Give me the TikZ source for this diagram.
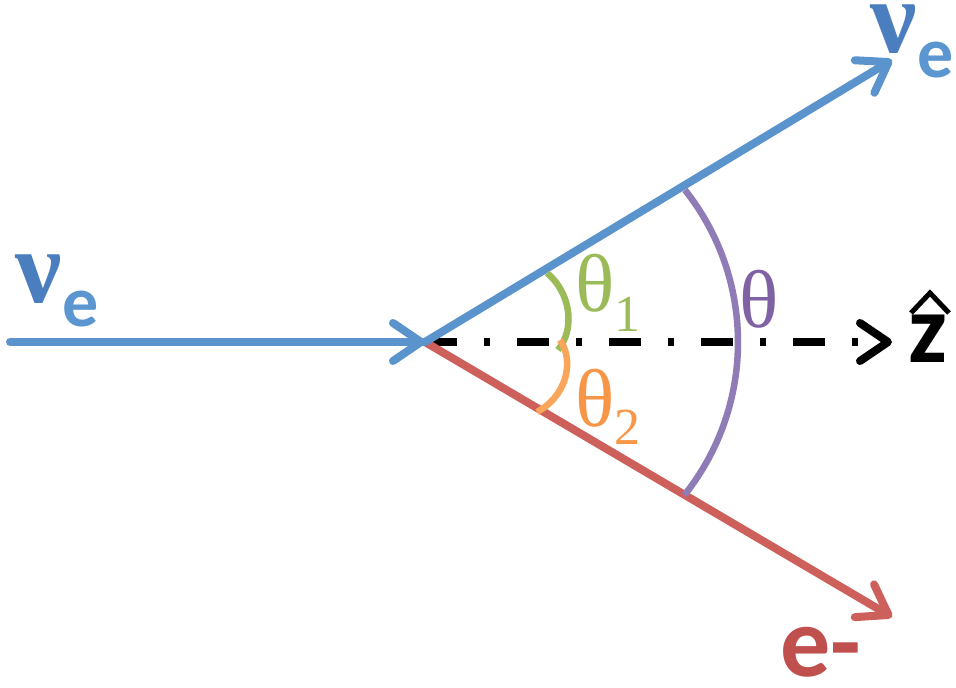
\documentclass[tikz,border=0pt]{standalone}
\usepackage{fontspec}
\usetikzlibrary{arrows.meta}
\newfontfamily\carl{Carlito}
\newfontfamily\lserif{Liberation Serif}
\definecolor{nuline}{HTML}{5B94CC}
\definecolor{nudark}{HTML}{4A7EBF}
\definecolor{nulight}{HTML}{5B96D0}
\definecolor{eline}{HTML}{CD605A}
\definecolor{etext}{HTML}{C0504D}
\definecolor{grn}{HTML}{9BBB59}
\definecolor{orng}{HTML}{F79646}
\definecolor{orngarc}{HTML}{F9A65A}
\definecolor{purarc}{HTML}{8F7CB6}
\definecolor{purtext}{HTML}{7F62A4}
\tikzset{
  barb/.style={-{Straight Barb[length=28pt,width=38pt,round]}},
  vecline/.style={line width=8pt, barb},
  anglearc/.style={line width=6.5pt},
  lbl/.style={anchor=base west, inner sep=0pt, outer sep=0pt},
  sanslbl/.style={lbl, font=\carl\bfseries\fontsize{100}{100}\selectfont},
  thlbl/.style={lbl, font=\lserif\fontsize{82}{82}\selectfont},
}
\newcommand{\subsc}[2]{\raisebox{-#1}{\fontsize{52}{52}\selectfont #2}}
\newcommand{\nue}[1]{{\lserif\bfseries\fontsize{104}{104}\selectfont ν}\kern1pt\raisebox{-#1}{\color{nulight}\carl\bfseries\fontsize{72}{72}\selectfont e}}
\begin{document}
\begin{tikzpicture}[x=1pt,y=1pt]
\useasboundingbox (0,0) rectangle (956,688);
% key points
\coordinate (in) at (10,346);
\coordinate (V) at (425,346);
\coordinate (nuout) at (892,628);
\coordinate (eout) at (892,71);
\coordinate (zout) at (892,346);
% connectors
\draw[vecline, black, line cap=butt, dash pattern=on 32pt off 27pt on 6pt off 27pt] (V) -- (zout);
\draw[vecline, eline, line cap=round] (V) -- (eout);
\draw[vecline, nuline, line cap=round] (V) -- (nuout);
\draw[vecline, nuline, line cap=round] (in) -- (V);
% angle arcs
\draw[anglearc, purarc] (685,498) arc[start angle=38.4, end angle=-38.6, radius=245];
\draw[anglearc, grn] (547,415) .. controls (570,396) and (576,360) .. (558,338);
\draw[anglearc, orngarc] (560,348) .. controls (574,328) and (568,293) .. (537,276);
% labels
\node[lbl, text=nudark] (nuinlbl) at (15,385) {\nue{24pt}};
\node[lbl, text=nudark] (nuoutlbl) at (870,635) {\nue{25pt}};
\node[sanslbl, text=etext] (elbl) at (780,11) {e-};
\node[thlbl, text=grn] (th1) at (575,376) {θ\subsc{20pt}{1}};
\node[thlbl, text=orng] (th2) at (575,261) {θ\subsc{18pt}{2}};
\node[thlbl, text=purtext] (th) at (739,360) {θ};
\node[sanslbl, text=black, font=\carl\bfseries\fontsize{98}{98}\selectfont] (zlbl) at (908,325) {z};
\draw[line width=5pt, line join=miter] (911,375) -- (930,395) -- (949,375);
\end{tikzpicture}
\end{document}
